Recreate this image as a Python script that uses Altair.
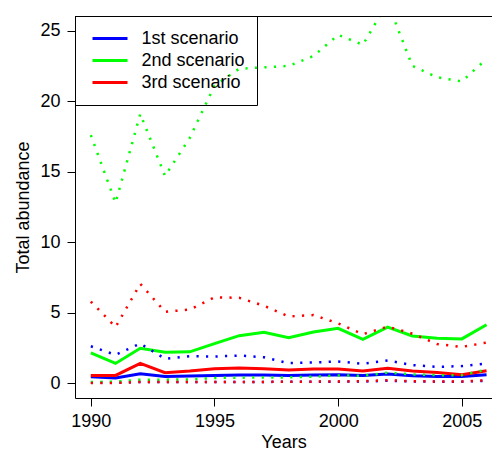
import altair as alt
import pandas as pd

years = list(range(1990, 2007))
scenarios = ["1st scenario", "2nd scenario", "3rd scenario"]
colors = ["#0000FF", "#00FF00", "#FF0000"]

s1_mean = [0.47, 0.38, 0.68, 0.49, 0.52, 0.56, 0.59, 0.59, 0.56, 0.59, 0.61, 0.56, 0.66, 0.54, 0.49, 0.49, 0.61]
s1_upper = [2.63, 2.02, 2.82, 1.74, 1.92, 1.90, 1.97, 1.85, 1.43, 1.48, 1.55, 1.39, 1.62, 1.29, 1.17, 1.22, 1.41]
s1_lower = [0.06, 0.05, 0.09, 0.09, 0.09, 0.10, 0.10, 0.10, 0.11, 0.11, 0.12, 0.13, 0.18, 0.13, 0.12, 0.12, 0.18]

s2_mean = [2.16, 1.41, 2.49, 2.21, 2.23, 2.82, 3.38, 3.62, 3.24, 3.64, 3.90, 3.12, 3.99, 3.36, 3.19, 3.15, 4.15]
s2_upper = [17.6, 12.8, 19.1, 14.7, 17.4, 21.1, 22.3, 22.4, 22.5, 23.2, 24.7, 24.0, 27.0, 22.5, 21.7, 21.4, 23.0]
s2_lower = [0.09, 0.12, 0.26, 0.26, 0.28, 0.38, 0.40, 0.42, 0.42, 0.47, 0.56, 0.54, 0.75, 0.63, 0.58, 0.58, 0.97]

s3_mean = [0.56, 0.56, 1.41, 0.75, 0.87, 1.03, 1.08, 1.03, 0.94, 1.01, 1.01, 0.87, 1.06, 0.87, 0.77, 0.61, 0.89]
s3_upper = [5.80, 3.99, 7.05, 5.07, 5.23, 6.10, 6.06, 5.50, 4.74, 4.84, 4.25, 3.48, 4.02, 3.52, 2.79, 2.58, 2.89]
s3_lower = [0.03, 0.03, 0.10, 0.10, 0.10, 0.10, 0.10, 0.10, 0.12, 0.12, 0.13, 0.15, 0.22, 0.15, 0.13, 0.13, 0.22]

x_ticks = [1990, 1995, 2000, 2005]
y_ticks = [0, 5, 10, 15, 20, 25]

series = {
    ("1st scenario", "mean"): s1_mean, ("1st scenario", "upper"): s1_upper, ("1st scenario", "lower"): s1_lower,
    ("2nd scenario", "mean"): s2_mean, ("2nd scenario", "upper"): s2_upper, ("2nd scenario", "lower"): s2_lower,
    ("3rd scenario", "mean"): s3_mean, ("3rd scenario", "upper"): s3_upper, ("3rd scenario", "lower"): s3_lower,
}
rows = []
for (sc, kind), vals in series.items():
    for y, v in zip(years, vals):
        rows.append({"year": y, "scenario": sc, "kind": kind, "value": v})
df = pd.DataFrame(rows)

W, H = 417, 382
FONT = "Liberation Sans"

x_enc = alt.X("year:Q",
              scale=alt.Scale(domain=[1989.36, 2006.22], nice=False, zero=False),
              axis=alt.Axis(values=x_ticks, format="d", title="Years", tickSize=8,
                            labelPadding=6, titleY=49, titleBaseline="alphabetic"))
y_enc = alt.Y("value:Q",
              scale=alt.Scale(domain=[-1.04, 26.04], nice=False, zero=False),
              axis=alt.Axis(values=y_ticks, format="d", title="Total abundance", tickSize=8,
                            labelPadding=7, labelAngle=0, titleX=-47, titleY=H / 2,
                            titleBaseline="alphabetic", titleAngle=270))

solid = alt.Chart(df).transform_filter(alt.datum.kind == "mean").mark_line(
    strokeWidth=3, clip=True
).encode(
    x=x_enc, y=y_enc,
    color=alt.Color("scenario:N", scale=alt.Scale(domain=scenarios, range=colors), title=None),
)

dotted = alt.Chart(df).transform_filter(alt.datum.kind != "mean").mark_line(
    strokeWidth=2.5, strokeDash=[2.2, 7.3], clip=True
).encode(
    x=x_enc, y=y_enc,
    color=alt.Color("scenario:N", scale=alt.Scale(domain=scenarios, range=colors), legend=None),
    detail="kind:N",
)

frame_top = alt.Chart(alt.Data(values=[{}])).mark_rule(color="black", strokeWidth=1).encode(
    x=alt.value(0), x2=alt.value(W), y=alt.value(0.5)
)

chart = alt.layer(solid, dotted, frame_top).resolve_scale(
    color="independent"
).resolve_legend(
    color="independent"
).properties(
    width=W, height=H,
    autosize=alt.AutoSizeParams(type="none"),
    padding={"left": 75, "top": 16, "right": 0, "bottom": 52},
    background="white",
).configure_view(
    stroke=None
).configure_axis(
    grid=False,
    labelFont=FONT, titleFont=FONT,
    labelFontSize=18, titleFontSize=18,
    labelColor="black", titleColor="black",
    titleFontWeight="normal",
    domainColor="black", tickColor="black",
    domainWidth=1, tickWidth=1,
).configure_legend(
    orient="none", legendX=0, legendY=0,
    strokeColor="black", strokeWidth=1,
    padding=11.5, clipHeight=22, rowPadding=0,
    symbolType="stroke", symbolSize=1225, symbolStrokeWidth=3,
    symbolOffset=4.5, labelOffset=12.5,
    labelFont=FONT, labelFontSize=18, labelColor="black",
    labelBaseline="middle",
)

chart.save("out.html", embed_options={"renderer": "svg", "actions": False})
